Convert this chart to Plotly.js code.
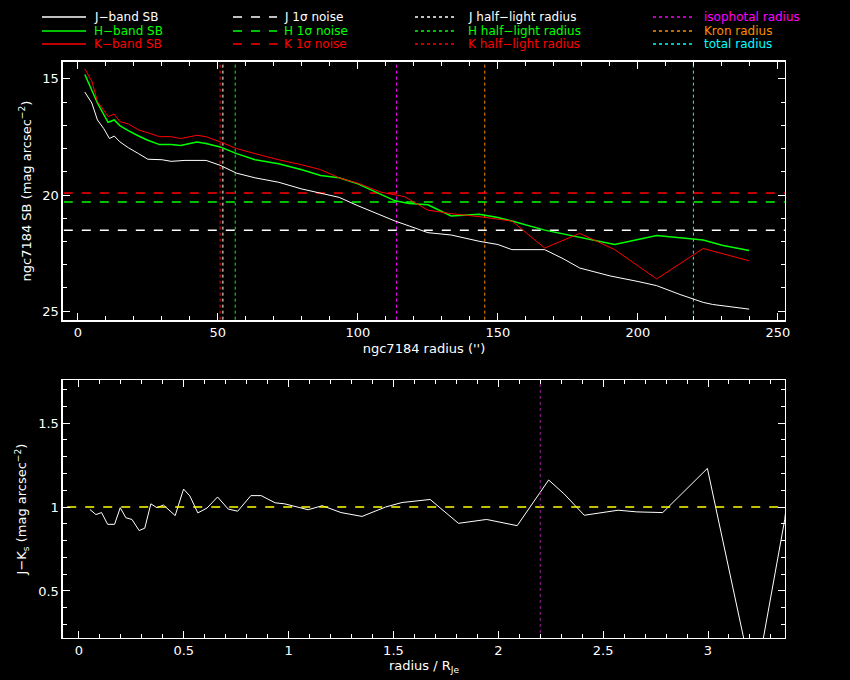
<!DOCTYPE html>
<html>
<head>
<meta charset="utf-8">
<script src="https://cdn.plot.ly/plotly-3.0.1.min.js"></script>
<style>body{margin:0;background:#000;}#plot{width:850px;height:680px;}</style>
</head>
<body>
<div id="plot"></div>
<script>
// surface brightness profiles (radius in arcsec, SB in mag/arcsec^2)
const rJ = [2.5,5,7,9.2,11.3,13,15,18,21.7,25,30,33.3,38.3,45.8,50.8,56.7,63.3,71.7,80,88.3,93.3,100,106.7,113.3,118.3,125,133.3,143.3,150,155,166.7,173.3,179.2,190,200,206.7,215,223.3,226.7,233.3,239.7];
const sbJ = [15.57,16.04,16.77,17.13,17.57,17.46,17.71,17.96,18.22,18.46,18.48,18.55,18.51,18.51,18.72,19.06,19.26,19.45,19.74,19.96,20.10,20.46,20.80,21.12,21.33,21.62,21.72,21.99,22.13,22.35,22.35,22.74,23.14,23.48,23.72,23.90,24.28,24.62,24.71,24.81,24.91];
const rH = [2.5,5,7,10.8,13,15,18,21.7,25,29.2,33.3,36.7,42.5,45.8,50.8,56.7,63.3,71.7,80,86.7,93.3,100,108.3,113.3,118.3,125,133.3,138.3,143.3,150,155,166.7,173.3,179.2,191.7,200,206.7,215,223.3,230,239.7];
const sbH = [14.81,15.46,16.04,16.87,16.77,17.01,17.23,17.46,17.64,17.83,17.83,17.87,17.72,17.78,17.93,18.22,18.48,18.65,18.91,19.16,19.26,19.52,19.96,20.25,20.36,20.42,20.90,20.87,20.83,20.97,21.12,21.51,21.67,21.80,22.13,21.91,21.74,21.84,21.94,22.16,22.39];
const rK = [2.5,5,7,10.8,13,15,18,21.7,25,29.2,33.3,36.7,42.5,45.8,50.8,56.7,63.3,71.7,80,86.7,93.3,100,108.3,116.7,125,133.3,143.3,150,155,166.7,179.2,191.7,206.7,223.3,239.7];
const sbK = [14.57,15.10,15.97,16.62,16.52,16.84,16.94,17.20,17.32,17.49,17.49,17.57,17.43,17.49,17.71,18.00,18.22,18.48,18.70,18.91,19.26,19.49,19.88,20.07,20.65,20.80,20.93,21.04,21.12,22.28,21.65,22.35,23.61,22.30,22.83];

// 1 sigma noise levels
const noiseJ = 21.52, noiseH = 20.30, noiseK = 19.91;
// radii
const halfJ = 51.8, halfH = 56.2, halfK = 50.8;
const isoR = 113.8, kronR = 145.3, totalR = 219.8;

// J-Ks colour profile
const rNorm = [0.052,0.081,0.108,0.137,0.170,0.197,0.224,0.253,0.287,0.314,0.343,0.372,0.403,0.432,0.459,0.499,0.529,0.567,0.611,0.661,0.712,0.757,0.820,0.869,0.936,0.981,1.037,1.093,1.160,1.250,1.350,1.462,1.541,1.608,1.675,1.810,1.944,2.090,2.240,2.314,2.410,2.571,2.661,2.784,2.997,3.187,3.254,3.366,3.40];
const jk = [0.986,0.955,0.967,0.897,0.897,0.996,0.936,0.926,0.860,0.874,1.019,0.996,1.012,0.981,0.949,1.107,1.066,0.965,0.994,1.060,0.988,0.975,1.068,1.068,1.025,1.019,1.0,0.984,1.008,0.967,0.944,1.0,1.027,1.037,1.045,0.903,0.926,0.889,1.161,1.078,0.951,0.981,0.971,0.967,1.230,0.12,0.15,0.926,1.3];
const jkMedian = 1.0, halfNorm = 2.2;

const col = {J:'#ffffff', H:'#00ff00', K:'#ff0000', iso:'#ff00ff', kron:'#ff8c00', tot:'#00ffff'};
function hline(y,c){ return {x:[-50,300],y:[y,y],mode:'lines',line:{color:c,width:1.5,dash:'dash'},hoverinfo:'skip'}; }
function vline(x,c){ return {x:[x,x],y:[10,30],mode:'lines',line:{color:c,width:1,dash:'dot'},hoverinfo:'skip'}; }

const traces = [
  vline(halfJ,col.J), vline(halfH,col.H), vline(halfK,col.K),
  vline(isoR,col.iso), vline(kronR,col.kron), vline(totalR,col.tot),
  hline(noiseJ,col.J), hline(noiseH,col.H), hline(noiseK,col.K),
  {x:rJ,y:sbJ,mode:'lines',line:{color:col.J,width:1}},
  {x:rH,y:sbH,mode:'lines',line:{color:col.H,width:1.5}},
  {x:rK,y:sbK,mode:'lines',line:{color:col.K,width:1}},
  {x:rNorm,y:jk,mode:'lines',line:{color:'#ffffff',width:1},xaxis:'x2',yaxis:'y2'},
  {x:[-1,4],y:[jkMedian,jkMedian],mode:'lines',line:{color:'#ffff00',width:1.5,dash:'dash'},xaxis:'x2',yaxis:'y2'},
  {x:[halfNorm,halfNorm],y:[0,2],mode:'lines',line:{color:'#a020a0',width:1,dash:'dot'},xaxis:'x2',yaxis:'y2'}
];

// hand-placed legend (4 columns x 3 rows, like the original)
const legCols = [
  {x0:42,x1:86,tx:92,dash:'solid',items:[['J\u2212band SB',col.J],['H\u2212band SB',col.H],['K\u2212band SB',col.K]]},
  {x0:233,x1:277,tx:282,dash:'dash',items:[['J 1\u03c3 noise',col.J],['H 1\u03c3 noise',col.H],['K 1\u03c3 noise',col.K]]},
  {x0:415,x1:455,tx:466,dash:'dot',items:[['J half\u2212light radius',col.J],['H half\u2212light radius',col.H],['K half\u2212light radius',col.K]]},
  {x0:653,x1:693,tx:702,dash:'dot',items:[['isophotal radius',col.iso],['Kron radius',col.kron],['total radius',col.tot]]}
];
const legRows = [17,31,44];
const shapes = [], annotations = [];
legCols.forEach(c => c.items.forEach((it,i) => {
  const y = 1 - legRows[i]/680;
  shapes.push({type:'line',xref:'paper',yref:'paper',x0:c.x0/850,x1:c.x1/850,y0:y,y1:y,
    line:{color:it[1],width:1.5,dash:c.dash}});
  annotations.push({xref:'paper',yref:'paper',x:c.tx/850,y:y,xanchor:'left',yanchor:'middle',showarrow:false,
    text:it[0],font:{color:it[1],size:12}});
}));

const ax = {showgrid:false,zeroline:false,showline:true,linecolor:'#fff',linewidth:1.5,mirror:'allticks',
  ticks:'inside',ticklen:7,tickcolor:'#fff',color:'#fff',tickfont:{size:13}};
const layout = {
  width:850,height:680,paper_bgcolor:'#000',plot_bgcolor:'#000',
  margin:{l:0,r:0,t:0,b:0},
  font:{family:'DejaVu Sans',color:'#fff',size:13},
  showlegend:false, shapes:shapes, annotations:annotations,
  xaxis:Object.assign({},ax,{domain:[0.0741,0.9235],range:[-5.3,252.5],dtick:50,minor:{dtick:10,ticks:'inside',ticklen:4,tickcolor:'#fff'},
    anchor:'y',title:{text:"ngc7184 radius ('')",font:{size:13},standoff:4}}),
  yaxis:Object.assign({},ax,{domain:[0.529,0.909],range:[25.39,14.27],tickvals:[15,20,25],minor:{dtick:1,ticks:'inside',ticklen:4,tickcolor:'#fff'},
    anchor:'x',title:{text:'ngc7184 SB (mag arcsec<sup>\u22122</sup>)',font:{size:13},standoff:8}}),
  xaxis2:Object.assign({},ax,{domain:[0.0741,0.9235],range:[-0.076,3.367],dtick:0.5,minor:{dtick:0.1,ticks:'inside',ticklen:4,tickcolor:'#fff'},
    anchor:'y2',title:{text:'radius / R<sub>Je</sub>',font:{size:13},standoff:4}}),
  yaxis2:Object.assign({},ax,{domain:[0.0618,0.441],range:[0.22,1.756],tickvals:[0.5,1,1.5],minor:{dtick:0.1,ticks:'inside',ticklen:4,tickcolor:'#fff'},
    anchor:'x2',title:{text:'J\u2212K<sub>s</sub> (mag arcsec<sup>\u22122</sup>)',font:{size:13},standoff:8}})
};
Plotly.newPlot('plot',traces,layout,{displayModeBar:false,staticPlot:true});
</script>
</body>
</html>
